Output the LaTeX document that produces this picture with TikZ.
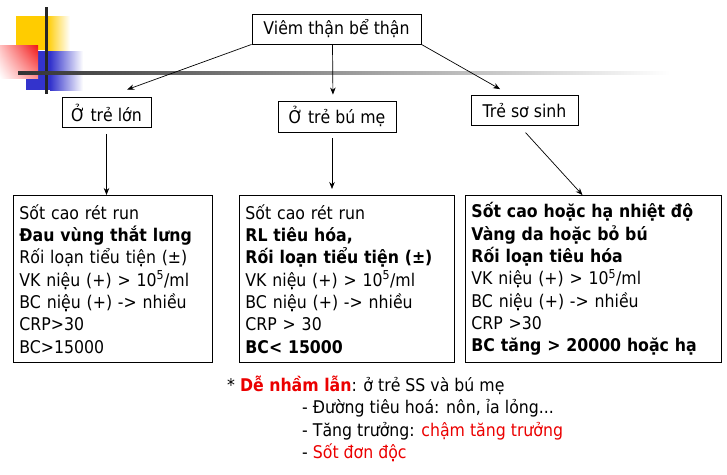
\documentclass[tikz,border=0pt]{standalone}
\usepackage{fontspec}
\setmainfont{DejaVu Sans}[FakeStretch=0.9]
\usetikzlibrary{arrows.meta, calc, positioning, shadings}
\definecolor{slideyellow}{RGB}{255,204,0}
\definecolor{slidered}{RGB}{240,20,20}
\definecolor{slideblue}{RGB}{51,51,204}
\definecolor{warnred}{RGB}{235,0,0}
\newcommand{\slidefont}{\fontsize{17.5}{22.3}\selectfont}
\tikzstyle{titlebox} = [rectangle, draw=black, line width=0.9pt, minimum width=169pt, minimum height=30pt, inner sep=0pt, font=\slidefont]
\tikzstyle{groupbox} = [rectangle, draw=black, line width=0.9pt, minimum height=30pt, inner sep=0pt, font=\slidefont]
\tikzstyle{signbox} = [rectangle, draw=black, line width=0.9pt, anchor=north west, minimum height=167pt, inner xsep=6pt, align=left, font=\slidefont]
\tikzstyle{notetext} = [anchor=base west, inner sep=0pt, font=\slidefont]
\tikzstyle{arrow} = [line width=0.7pt, -{Stealth[length=7pt, width=5.5pt]}]

\begin{document}
\begin{tikzpicture}[x=1pt, y=-1pt]
    \useasboundingbox (0,0) rectangle (727,474);
    % trang tri cua slide
    \fill[slideyellow] (16,16) rectangle (47,50);
    \shade[left color=slideyellow, right color=white] (47,16) rectangle (70,50);
    \fill[slideblue] (26,51) rectangle (50,90);
    \shade[left color=slideblue, right color=white] (50,51) rectangle (83,90);
    \shade[upper right=slidered, upper left=red!25!white, lower right=red!45!white, lower left=white] (0,45) rectangle (38,78);
    \fill[black!85] (45,7) rectangle (47.5,94);
    \shade[left color=black!80, middle color=black!35, right color=white] (18,71.5) rectangle (670,74.5);

    \node (top) [titlebox] at (336.5,29) {Viêm thận bể thận};
    \node (lon) [groupbox, minimum width=89pt] at (106.5,112.5) {Ở trẻ lớn};
    \node (bume) [groupbox, minimum width=118pt, minimum height=31pt] at (337,116.5) {Ở trẻ bú mẹ};
    \node (sosinh) [groupbox, minimum width=107pt] at (524.5,110.5) {Trẻ sơ sinh};

    \node (b1) [signbox, text width=187pt] at (13,195) {Sốt cao rét run\\ \textbf{Đau vùng thắt lưng}\\ Rối loạn tiểu tiện (±)\\ VK niệu (+) > 10\textsuperscript{5}/ml\\ BC niệu (+) -> nhiều\\ CRP>30\\ BC>15000};
    \node (b2) [signbox, text width=203pt] at (239,195) {Sốt cao rét run\\ \textbf{RL tiêu hóa,}\\ \textbf{Rối loạn tiểu tiện (±)}\\ VK niệu (+) > 10\textsuperscript{5}/ml\\ BC niệu (+) -> nhiều\\ CRP > 30\\ \textbf{BC< 15000}};
    \node (b3) [signbox, text width=244pt] at (465,195) {\textbf{Sốt cao hoặc hạ nhiệt độ}\\ \textbf{Vàng da hoặc bỏ bú}\\ \textbf{Rối loạn tiêu hóa}\\ VK niệu (+) > 10\textsuperscript{5}/ml\\ BC niệu (+) -> nhiều\\ CRP >30\\ \textbf{BC tăng > 20000 hoặc hạ}};

    \draw [arrow, shorten >=22pt] (top.south west) -- (lon.north);
    \draw [arrow, shorten >=6pt] ($(top.south)+(-4,0)$) -- ($(bume.north)+(-4,0)$);
    \draw [arrow, shorten >=12pt] (top.south east) -- ($(sosinh.north)+(-14,0)$);
    \draw [arrow, shorten <=6pt] (lon.south) -- (lon.south |- b1.north);
    \draw [arrow, shorten <=6pt, shorten >=6pt] ($(bume.south)+(-5,0)$) -- ($(bume.south |- b2.north)+(-5,0)$);
    \draw [arrow, shorten <=9pt] ($(sosinh.south)+(-5,0)$) -- ($(b3.north)+(-11,0)$);

    \node (note) [notetext] at (227,391) {* \textcolor{warnred}{\textbf{Dễ nhầm lẫn}}: ở trẻ SS và bú mẹ};
    \node (note1) [notetext] at (302,413.5) {- Đường tiêu hoá: nôn, ỉa lỏng...};
    \node (note2) [notetext] at (302,436) {- Tăng trưởng: \textcolor{warnred}{chậm tăng trưởng}};
    \node (note3) [notetext] at (302,458.5) {- \textcolor{warnred}{Sốt đơn độc}};
\end{tikzpicture}
\end{document}
